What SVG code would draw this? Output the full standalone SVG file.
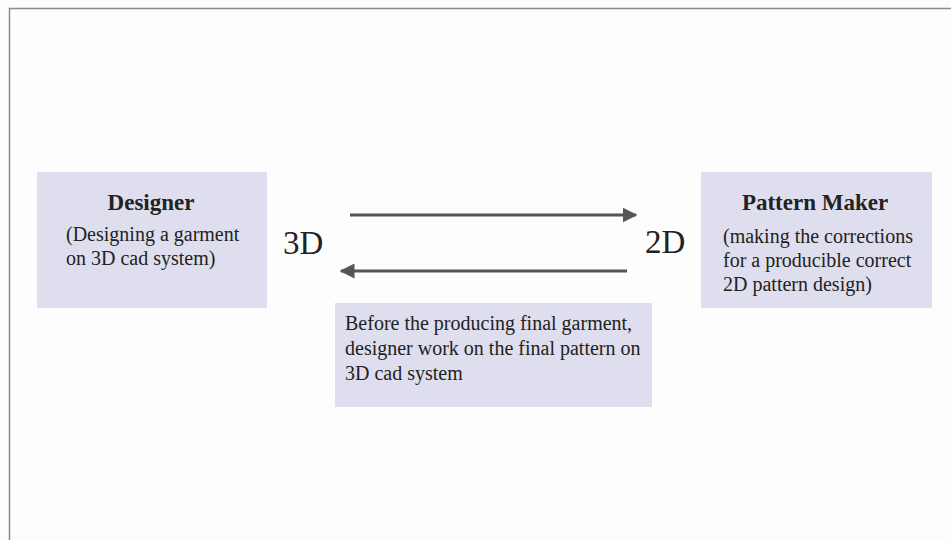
<svg xmlns="http://www.w3.org/2000/svg" width="951" height="540" viewBox="0 0 951 540">
<style>
.box{fill:#dedeee;}
.t{font-family:"Liberation Serif",serif;fill:#222;font-size:20px;}
.b{font-weight:bold;font-size:23px;}
.big{font-size:33px;}
.arr{stroke:#555;stroke-width:3;fill:none;}
</style>
<defs>
<marker id="ah" viewBox="0 0 10 10" refX="9" refY="5" markerWidth="5" markerHeight="5" orient="auto" markerUnits="strokeWidth">
<path d="M0,0 L10,5 L0,10 z" fill="#555"/>
</marker>
</defs>
<rect x="0" y="0" width="951" height="540" fill="#fdfdfd"/>
<path d="M9.5,540 V8.5 H951" stroke="#8a8a8a" stroke-width="1.5" fill="none"/>
<g id="designer">
<rect class="box" x="37" y="172" width="230" height="136"/>
<text class="t b" x="151" y="210" text-anchor="middle">Designer</text>
<text class="t" x="66" y="241">(Designing a garment</text>
<text class="t" x="66" y="265">on 3D cad system)</text>
</g>
<g id="patternmaker">
<rect class="box" x="701" y="172" width="231" height="136"/>
<text class="t b" x="815" y="210" text-anchor="middle">Pattern Maker</text>
<text class="t" x="723" y="243">(making the corrections</text>
<text class="t" x="723" y="267">for a producible correct</text>
<text class="t" x="723" y="291">2D pattern design)</text>
</g>
<g id="label3d"><text class="t big" x="283" y="254">3D</text></g>
<g id="label2d"><text class="t big" x="645" y="253">2D</text></g>
<g id="note">
<rect class="box" x="335" y="303" width="317" height="104"/>
<text class="t" x="345" y="330">Before the producing final garment,</text>
<text class="t" x="345" y="355">designer work on the final pattern on</text>
<text class="t" x="345" y="380">3D cad system</text>
</g>
<g id="connectors">
<line class="arr" x1="350" y1="215" x2="636" y2="215" marker-end="url(#ah)"/>
<line class="arr" x1="627" y1="271" x2="341" y2="271" marker-end="url(#ah)"/>
</g>
</svg>
